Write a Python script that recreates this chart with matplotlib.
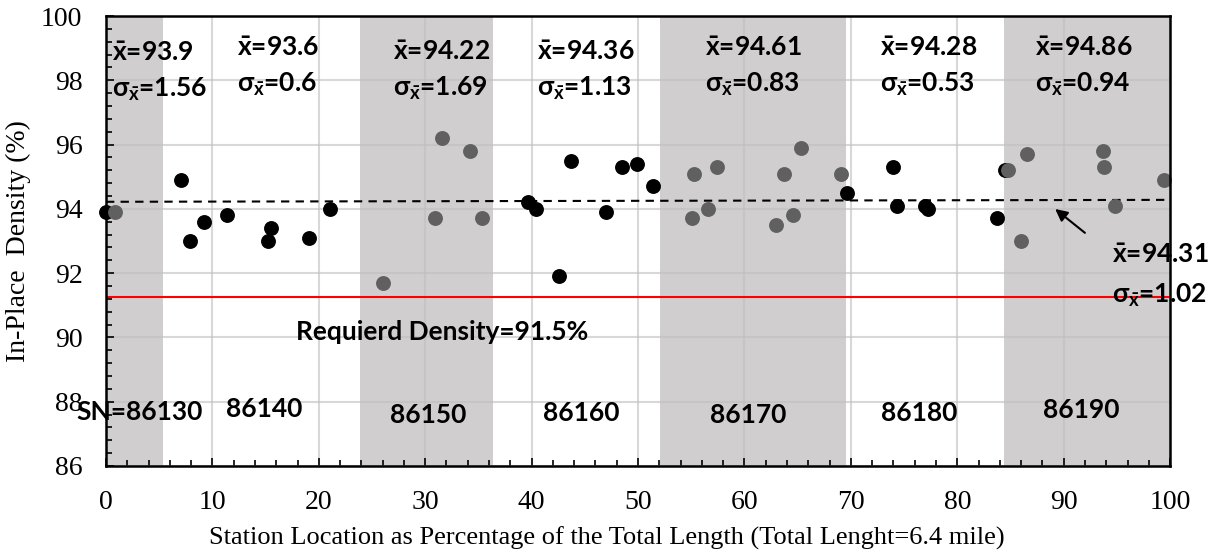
import matplotlib
matplotlib.use("Agg")
import matplotlib.pyplot as plt
from matplotlib.ticker import MultipleLocator

# station sections along the project (percent of total length)
band_edges = [0, 5.4, 23.9, 36.4, 52.1, 69.5, 84.4, 100]
stations = ["SN=86130", "86140", "86150", "86160", "86170", "86180", "86190"]
means = ["93.9", "93.6", "94.22", "94.36", "94.61", "94.28", "94.86"]
sigmas = ["1.56", "0.6", "1.69", "1.13", "0.83", "0.53", "0.94"]

# densities measured in white sections (black) and shaded sections (gray)
black_x = [0, 7.05, 7.9, 9.24, 11.34, 15.48, 15.26, 19.08, 21.05,
           39.63, 40.45, 42.58, 43.67, 46.99, 48.53, 49.87, 51.44,
           69.67, 73.93, 74.31, 76.97, 77.29, 83.71, 84.5]
black_y = [93.9, 94.9, 93.0, 93.6, 93.8, 93.4, 93.0, 93.1, 94.0,
           94.2, 94.0, 91.9, 95.5, 93.9, 95.3, 95.4, 94.7,
           94.5, 95.3, 94.1, 94.1, 94.0, 93.7, 95.2]
gray_x = [0.85, 26.06, 31.55, 34.21, 30.95, 35.34,
          55.26, 57.46, 55.1, 56.58, 65.29, 63.75, 64.6, 62.94, 69.08,
          84.8, 86.59, 86.0, 93.67, 93.8, 94.86, 99.44]
gray_y = [93.9, 91.7, 96.2, 95.8, 93.7, 93.7,
          95.1, 95.3, 93.7, 94.0, 95.9, 95.1, 93.8, 93.5, 95.1,
          95.2, 95.7, 93.0, 95.8, 95.3, 94.1, 94.9]

overall_mean = "94.31"
overall_sigma = "1.02"
trend_x = [0, 100]
trend_y = [94.22, 94.28]
required = 91.25

plt.rcParams.update({
    "mathtext.fontset": "custom",
    "mathtext.rm": "Lato:bold",
    "mathtext.it": "Lato:bold",
    "mathtext.bf": "Lato:bold",
})

fig = plt.figure(figsize=(12.1, 5.56), dpi=100)
ax = fig.add_axes([0.0876, 0.1619, 0.8794, 0.8093])
ax.set_xlim(0, 100)
ax.set_ylim(86, 100)

for i in range(len(stations)):
    if i % 2 == 0:
        ax.axvspan(band_edges[i], band_edges[i + 1], color="#d0cece", lw=0, zorder=0)

ax.grid(True, which="major", color="#bfbfbf", alpha=0.6, lw=1.5, zorder=1)
ax.set_axisbelow(True)

ax.axhline(required, color="red", lw=1.5, zorder=2)
ax.plot(trend_x, trend_y, color="black", lw=1.5, ls=(0, (4, 3)), zorder=2)

ax.scatter(black_x, black_y, s=115, color="black", zorder=3, clip_on=False, lw=0)
ax.scatter(gray_x, gray_y, s=115, color="#606060", zorder=4, clip_on=False, lw=0)

txt = dict(fontfamily="Lato", fontweight="bold", fontsize=19, color="black", zorder=6)
mean_x = [0.55, 12.3, 27.0, 40.5, 56.3, 72.7, 87.3]
mean_y = [98.85, 99.0, 98.88, 98.88, 99.0, 99.0, 99.0]
sn_x = [-2.8, 11.3, 26.7, 41.1, 56.8, 72.8, 88.1]
sn_y = [87.68, 87.77, 87.59, 87.65, 87.59, 87.65, 87.74]
for i in range(len(stations)):
    ax.text(mean_x[i], mean_y[i], r"$\bar{x}$=" + means[i], va="center", **txt)
    ax.text(mean_x[i], mean_y[i] - 1.12, r"$\sigma_{\bar{x}}$=" + sigmas[i], va="center", **txt)
    ax.text(sn_x[i], sn_y[i], stations[i], va="center", clip_on=False, **txt)

ax.text(94.5, 92.56, r"$\bar{x}$=" + overall_mean, va="center", **txt)
ax.text(94.5, 91.32, r"$\sigma_{\bar{x}}$=" + overall_sigma, va="center", **txt)
ax.annotate("", xy=(89.0, 94.05), xytext=(92.2, 93.2),
            arrowprops=dict(arrowstyle="-|>", color="black", lw=1.5, mutation_scale=18))
ax.text(17.9, 90.17, "Requierd Density=91.5%", va="center", **txt)

ax.xaxis.set_major_locator(MultipleLocator(10))
ax.xaxis.set_minor_locator(MultipleLocator(2))
ax.yaxis.set_major_locator(MultipleLocator(2))
ax.yaxis.set_minor_locator(MultipleLocator(0.4))
ax.tick_params(which="both", direction="in", width=1.2, color="black")
ax.tick_params(which="major", length=6, labelsize=20, pad=17)
ax.tick_params(which="minor", length=4)
for lab in ax.get_xticklabels() + ax.get_yticklabels():
    lab.set_fontfamily("Liberation Serif")
for sp in ax.spines.values():
    sp.set_linewidth(1.8)
    sp.set_color("black")
    sp.set_zorder(5)

ax.set_xlabel("Station Location as Percentage of the Total Length (Total Lenght=6.4 mile)",
              fontfamily="Liberation Serif", fontsize=19)
ax.xaxis.set_label_coords(0.471, -0.135)
ax.set_ylabel("In-Place  Density (%)", fontfamily="Liberation Serif", fontsize=20)
ax.yaxis.set_label_coords(-0.0705, 0.5)

fig.savefig("out.png", dpi=100)
